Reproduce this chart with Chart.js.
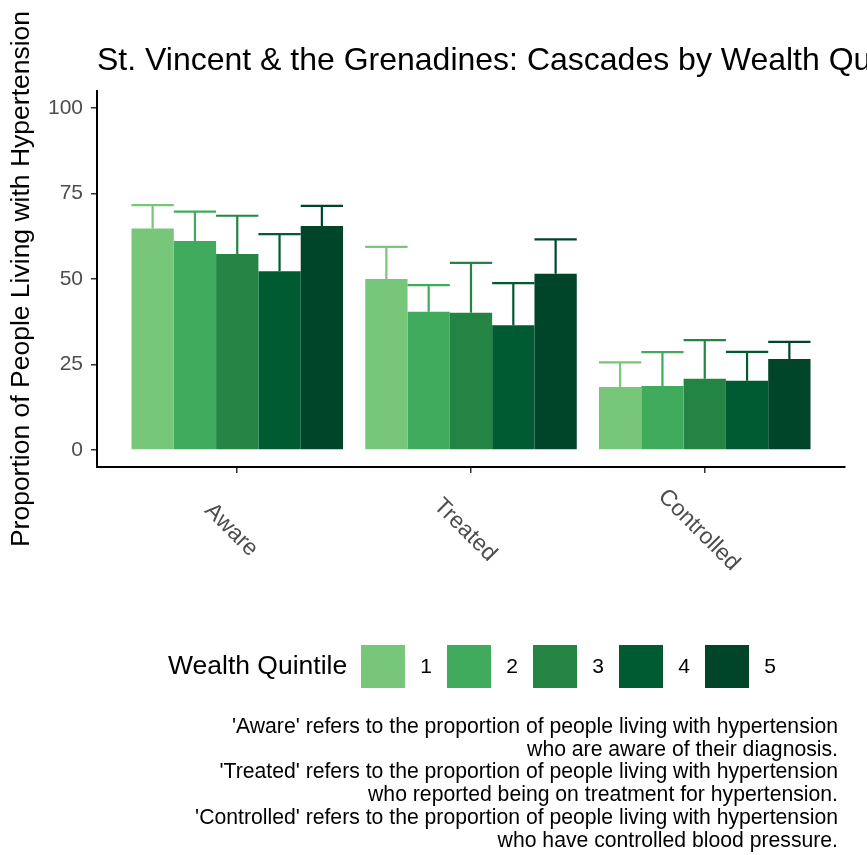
<!DOCTYPE html>
<html>
<head>
<meta charset="utf-8">
<script src="https://cdn.jsdelivr.net/npm/chart.js@4"></script>
<style>
  body { margin: 0; background: #fff; }
  #grafico { display: block; }
</style>
</head>
<body>
<canvas id="grafico" width="867" height="855"></canvas>
<script>
// dados
const categorias = ['Aware', 'Treated', 'Controlled'];
const quintis = ['1', '2', '3', '4', '5'];
const cores = ['#78C679', '#41AB5D', '#238443', '#005A32', '#004529'];

const quintil1 = [64.8, 50.0, 18.4];
const quintil2 = [61.1, 40.4, 18.7];
const quintil3 = [57.3, 40.1, 20.8];
const quintil4 = [52.3, 36.5, 20.2];
const quintil5 = [65.5, 51.5, 26.6];

// limite superior do intervalo
const sup1 = [71.6, 59.4, 25.6];
const sup2 = [69.7, 48.2, 28.6];
const sup3 = [68.5, 54.7, 32.1];
const sup4 = [63.1, 48.8, 28.7];
const sup5 = [71.4, 61.6, 31.6];

const ticksY = [0, 25, 50, 75, 100];

const titulo = 'St. Vincent & the Grenadines: Cascades by Wealth Quintile';
const tituloY = 'Proportion of People Living with Hypertension';
const tituloLegenda = 'Wealth Quintile';
const nota = [
  "'Aware' refers to the proportion of people living with hypertension",
  "who are aware of their diagnosis.",
  "'Treated' refers to the proportion of people living with hypertension",
  "who reported being on treatment for hypertension.",
  "'Controlled' refers to the proportion of people living with hypertension",
  "who have controlled blood pressure."
];

const valores = [quintil1, quintil2, quintil3, quintil4, quintil5];
const superiores = [sup1, sup2, sup3, sup4, sup5];
const fonte = '"Liberation Sans", Arial, sans-serif';

const barrasErro = { // desenha so a parte de cima do intervalo
  id: 'barrasErro',
  afterDatasetsDraw(chart) {
    const ctx = chart.ctx;
    const y = chart.scales.y;
    chart.data.datasets.forEach((ds, i) => {
      const meta = chart.getDatasetMeta(i);
      meta.data.forEach((barra, j) => {
        const topo = y.getPixelForValue(superiores[i][j]);
        const meio = barra.width / 2;
        ctx.save();
        ctx.strokeStyle = cores[i];
        ctx.lineWidth = 2.2;
        ctx.beginPath();
        ctx.moveTo(barra.x, barra.y);
        ctx.lineTo(barra.x, topo);
        ctx.moveTo(barra.x - meio, topo);
        ctx.lineTo(barra.x + meio, topo);
        ctx.stroke();
        ctx.restore();
      });
    });
  }
};

const textos = { // titulo, rotulos, legenda e nota
  id: 'textos',
  afterDraw(chart) {
    const ctx = chart.ctx;
    const area = chart.chartArea;
    const x = chart.scales.x;
    ctx.save();

    ctx.fillStyle = '#000';
    ctx.font = '32px ' + fonte;
    ctx.textAlign = 'left';
    ctx.textBaseline = 'alphabetic';
    ctx.fillText(titulo, area.left, 70);

    ctx.save();
    ctx.translate(22, (area.top + area.bottom) / 2);
    ctx.rotate(-Math.PI / 2);
    ctx.font = '26.5px ' + fonte;
    ctx.textAlign = 'center';
    ctx.textBaseline = 'middle';
    ctx.fillText(tituloY, 0, 0);
    ctx.restore();

    categorias.forEach((cat, i) => {
      ctx.save();
      ctx.translate(x.getPixelForValue(i) - 6, 530);
      ctx.rotate(Math.PI / 4);
      ctx.font = '23px ' + fonte;
      ctx.fillStyle = '#4D4D4D';
      ctx.textAlign = 'center';
      ctx.textBaseline = 'middle';
      ctx.fillText(cat, 0, 0);
      ctx.restore();
    });

    ctx.font = '26.5px ' + fonte;
    ctx.fillStyle = '#000';
    ctx.textBaseline = 'middle';
    ctx.textAlign = 'left';
    ctx.fillText(tituloLegenda, 168, 667);
    quintis.forEach((q, i) => {
      const bx = 361 + 86 * i;
      ctx.fillStyle = cores[i];
      ctx.fillRect(bx, 645, 44, 43);
      ctx.fillStyle = '#000';
      ctx.font = '21px ' + fonte;
      ctx.textAlign = 'center';
      ctx.fillText(q, bx + 65, 667);
    });

    ctx.font = '21.2px ' + fonte;
    ctx.textAlign = 'right';
    nota.forEach((linha, i) => {
      ctx.fillText(linha, 838, 727 + i * 22.8);
    });

    ctx.restore();
  }
};

const grafico = new Chart(document.getElementById('grafico'), {
  type: 'bar',
  data: {
    datasets: quintis.map((q, i) => ({
      label: q,
      data: valores[i].map((v, j) => ({ x: j, y: v })),
      backgroundColor: cores[i],
      borderWidth: 0
    }))
  },
  options: {
    responsive: false,
    animation: false,
    categoryPercentage: 0.905,
    barPercentage: 1,
    layout: { padding: { top: 91, left: 0, right: 22, bottom: 388 } },
    plugins: {
      legend: { display: false },
      tooltip: { enabled: false }
    },
    scales: {
      x: {
        type: 'linear',
        min: -0.6,
        max: 2.6,
        offset: false,
        afterBuildTicks: (s) => { s.ticks = categorias.map((c, i) => ({ value: i })); },
        afterFit: (s) => { s.height = 0; },
        ticks: { display: false },
        grid: { drawOnChartArea: false, drawTicks: true, tickLength: 6, color: '#333', lineWidth: 1.5, offset: false },
        border: { display: true, color: '#000', width: 2 }
      },
      y: {
        min: -5,
        max: 105,
        afterBuildTicks: (s) => { s.ticks = ticksY.map(v => ({ value: v })); },
        afterFit: (s) => { s.width = 97; },
        ticks: { color: '#4D4D4D', font: { size: 21, family: fonte }, padding: 8 },
        grid: { drawOnChartArea: false, drawTicks: true, tickLength: 6, color: '#333', lineWidth: 1.5 },
        border: { display: true, color: '#000', width: 2 }
      }
    }
  },
  plugins: [barrasErro, textos]
});
</script>
</body>
</html>
